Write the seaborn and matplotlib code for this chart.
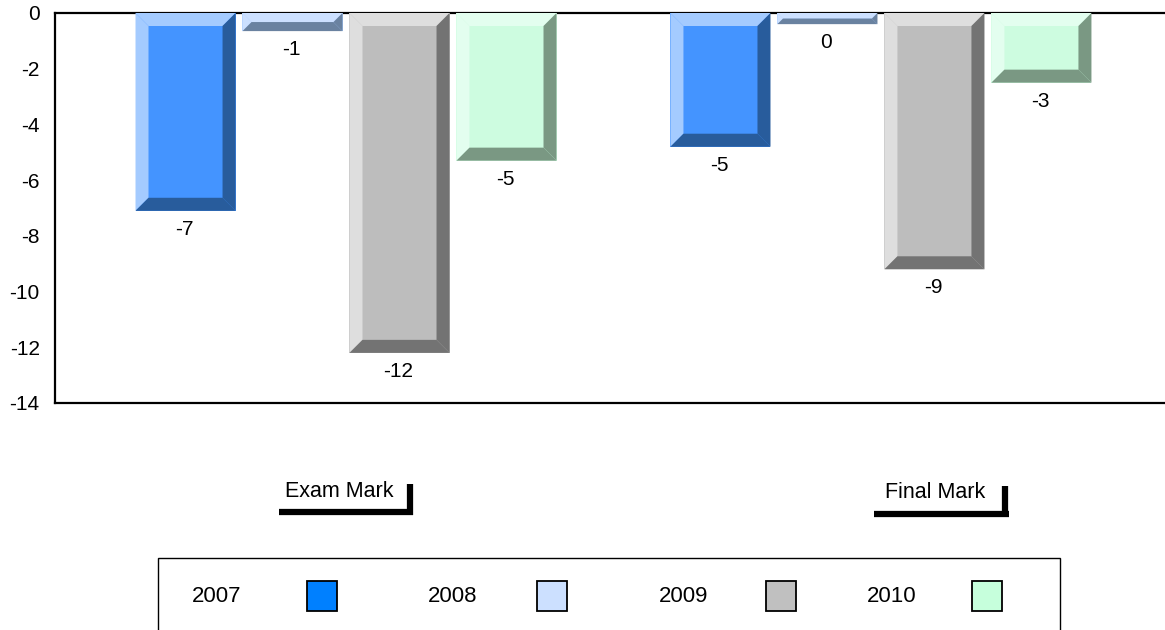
import numpy as np
import pandas as pd
import matplotlib
matplotlib.use("Agg")
import matplotlib.pyplot as plt
from matplotlib.patches import Polygon, Rectangle
from matplotlib.lines import Line2D
from matplotlib.colors import to_rgba
import seaborn as sns

# ---------------- data ----------------
categories = ["Exam Mark", "Final Mark"]
years = ["2007", "2008", "2009", "2010"]
values_2007 = [-7.1, -4.8]
values_2008 = [-0.65, -0.4]
values_2009 = [-12.2, -9.2]
values_2010 = [-5.3, -2.5]
y_ticks = [0, -2, -4, -6, -8, -10, -12, -14]

face_colors = ["#4494FF", "#A8CCFF", "#BDBDBD", "#CDFCE0"]
light_colors = ["#A4CBFF", "#CCE0FF", "#DEDEDE", "#E3FEEF"]
dark_colors = ["#285C9C", "#6A82A0", "#737373", "#7A9883"]
legend_colors = ["#0080FF", "#CCE0FF", "#C0C0C0", "#C6FFDC"]

series = [values_2007, values_2008, values_2009, values_2010]
df = pd.DataFrame({
    "metric": [c for vals in series for c in categories],
    "year": [y for y, vals in zip(years, series) for _ in vals],
    "value": [v for vals in series for v in vals],
})

W, H = 1165, 630
sns.set_theme(style="white")
plt.rcParams["font.family"] = ["Liberation Sans", "DejaVu Sans"]

fig = plt.figure(figsize=(W / 100, H / 100), dpi=100)
ax = fig.add_axes([55 / W, 1 - 403 / H, 1 - 55 / W, (403 - 13) / H])

sns.barplot(data=df, x="metric", y="value", hue="year", order=categories,
            hue_order=years, palette=face_colors, width=0.8, gap=0.065,
            saturation=1, errorbar=None, legend=False, linewidth=0,
            zorder=3, ax=ax)

ax.set_ylim(-14, 0)
ax.set_xlim(-0.544, 1.531)
ax.set_xticks([])
ax.set_xlabel("")
ax.set_ylabel("")
ax.set_yticks(y_ticks)
ax.set_yticklabels([str(t) for t in y_ticks])
ax.tick_params(axis="y", length=0, pad=11, labelsize=15, colors="black")

for side in ["left", "bottom", "top"]:
    ax.spines[side].set_visible(True)
    ax.spines[side].set_color("black")
    ax.spines[side].set_linewidth(1.6)
    ax.spines[side].set_zorder(2)
ax.spines["right"].set_visible(False)

# ---------------- bevel effect ----------------
bars = [p for p in ax.patches if isinstance(p, Rectangle)]
trans = ax.transData
inv = trans.inverted()


def match_index(fc):
    best, bi = 1e9, 0
    for i, c in enumerate(face_colors):
        d = sum(abs(a - b) for a, b in zip(to_rgba(c)[:3], fc[:3]))
        if d < best:
            best, bi = d, i
    return bi


for p in bars:
    idx = match_index(p.get_facecolor())
    x0, w = p.get_x(), p.get_width()
    y0, h = p.get_y(), p.get_height()
    ytop, ybot = max(y0, y0 + h), min(y0, y0 + h)
    X0, Yt = trans.transform((x0, ytop))
    X1, Yb = trans.transform((x0 + w, ybot))
    b = min(13.0, (Yt - Yb) / 2.0, (X1 - X0) / 2.0)
    polys = [
        ([(X0, Yt), (X0 + b, Yt - b), (X0 + b, Yb + b), (X0, Yb)], light_colors[idx]),
        ([(X0, Yt), (X1, Yt), (X1 - b, Yt - b), (X0 + b, Yt - b)], light_colors[idx]),
        ([(X1, Yt), (X1, Yb), (X1 - b, Yb + b), (X1 - b, Yt - b)], dark_colors[idx]),
        ([(X0, Yb), (X1, Yb), (X1 - b, Yb + b), (X0 + b, Yb + b)], dark_colors[idx]),
    ]
    for pts, col in polys:
        dpts = inv.transform(np.array(pts))
        ax.add_patch(Polygon(dpts, closed=True, facecolor=col,
                             edgecolor="none", zorder=3.5))
    v = y0 + h
    lab = int(np.sign(v) * np.floor(abs(v) + 0.5))
    ax.annotate(f"{lab}", xy=(x0 + w / 2, ybot), xytext=(-1, -9),
                textcoords="offset pixels", ha="center", va="top",
                fontsize=15, color="black", zorder=5)


def fx(x):
    return x / W


def fy(y):
    return 1 - y / H


# ---------------- category labels with brackets ----------------
cat_layout = [
    (285, 497, 279, 413, 512, 410, 484),
    (885, 498, 874, 1009, 514, 1005, 486),
]
for name, (tx, ty, hx0, hx1, hy, vx, vy0) in zip(categories, cat_layout):
    fig.text(fx(tx), fy(ty), name, ha="left", va="baseline", fontsize=15.5,
             color="black")
    fig.add_artist(Line2D([fx(hx0), fx(hx1)], [fy(hy), fy(hy)],
                          transform=fig.transFigure, color="black", lw=4.5,
                          solid_capstyle="butt"))
    fig.add_artist(Line2D([fx(vx), fx(vx)], [fy(vy0), fy(hy + 3)],
                          transform=fig.transFigure, color="black", lw=4.5,
                          solid_capstyle="butt"))

# ---------------- legend ----------------
fig.add_artist(Rectangle((fx(158), fy(660)), fx(1060) - fx(158), fy(558) - fy(660),
                         transform=fig.transFigure, facecolor="white",
                         edgecolor="black", lw=1.0))
text_x = [192, 428, 659, 867]
box_x = [307, 537, 766, 972]
for yr, tx, bx, col in zip(years, text_x, box_x, legend_colors):
    fig.text(fx(tx), fy(597), yr, ha="left", va="center", fontsize=16,
             color="black")
    fig.add_artist(Rectangle((fx(bx), fy(611)), fx(bx + 30) - fx(bx),
                             fy(581) - fy(611), transform=fig.transFigure,
                             facecolor=col, edgecolor="black", lw=1.3))

fig.savefig("out.png", dpi=100)
